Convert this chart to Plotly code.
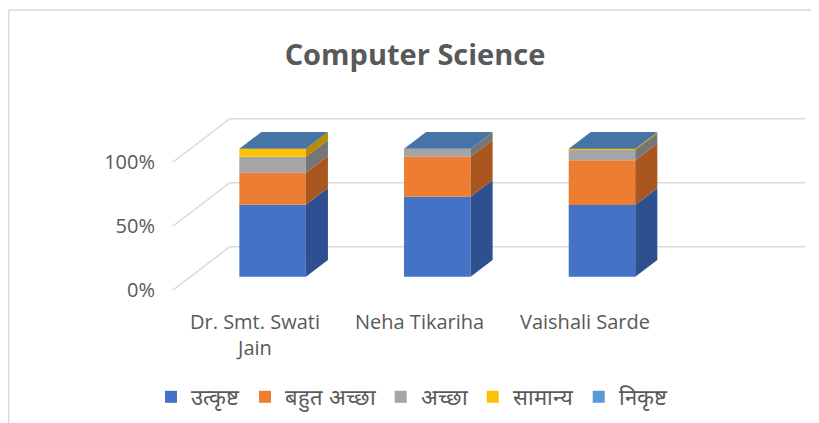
import plotly.graph_objects as go

# ---------------- data ----------------
categories = ["Dr. Smt. Swati<br>Jain", "Neha Tikariha", "Vaishali Sarde"]
series_names = ["उत्कृष्ट", "बहुत अच्छा", "अच्छा", "सामान्य", "निकृष्ट"]
utkrisht = [56.25, 62.5, 56.0]
bahut_achha = [25.0, 31.25, 35.0]
achha = [12.5, 6.25, 8.0]
samanya = [6.25, 0.0, 1.0]
nikrisht = [0.0, 0.0, 0.0]
y_tick_vals = [0, 50, 100]
y_tick_text = ["0%", "50%", "100%"]

series_values = [utkrisht, bahut_achha, achha, samanya, nikrisht]
front_colors = ["#4472C4", "#ED7D31", "#A5A5A5", "#FFC000", "#5B9BD5"]
side_colors = ["#2E5090", "#A9561F", "#767676", "#B88B00", "#3F75A8"]
top_color = "#4774A6"

# ---------------- pseudo-3D geometry (data units) ----------------
BW = 0.404          # bar width (category units)
FDX, FDY = 0.106, 10.4   # offset of bar front face from front plane
BDX, BDY = 0.134, 13.0   # bar depth
WDX, WDY = 0.346, 33.8   # depth of the floor (front plane -> back wall)
FRONT_LEFT = -0.499
GRID_RIGHT = 3.339

FONT = "Open Sans"
GRAY_TXT = "#595959"
GRID = "#D9D9D9"

W, H = 811, 415   # page adds an 8px body margin

fig = go.Figure()
xs = list(range(len(categories)))

cum = [0.0] * len(categories)
bases = []
for vals in series_values:
    bases.append(cum[:])
    cum = [c + v for c, v in zip(cum, vals)]

# front faces
for name, vals, col, base in zip(series_names, series_values, front_colors, bases):
    fig.add_trace(go.Bar(
        x=[x + FDX for x in xs], y=vals, base=[b + FDY for b in base],
        width=BW, name=name, marker=dict(color=col, line=dict(width=0)),
        hoverinfo="skip",
    ))

# side faces
for vals, col, base in zip(series_values, side_colors, bases):
    for i, x in enumerate(xs):
        if vals[i] <= 0:
            continue
        xr = x + FDX + BW / 2
        y0 = base[i] + FDY
        y1 = y0 + vals[i]
        fig.add_trace(go.Scatter(
            x=[xr, xr, xr + BDX, xr + BDX, xr],
            y=[y0, y1, y1 + BDY, y0 + BDY, y0],
            fill="toself", fillcolor=col, mode="lines", line=dict(width=0),
            showlegend=False, hoverinfo="skip",
        ))

# top faces
for i, x in enumerate(xs):
    xl = x + FDX - BW / 2
    xr = x + FDX + BW / 2
    yt = cum[i] + FDY
    fig.add_trace(go.Scatter(
        x=[xl, xr, xr + BDX, xl + BDX, xl],
        y=[yt, yt, yt + BDY, yt + BDY, yt],
        fill="toself", fillcolor=top_color, mode="lines", line=dict(width=0),
        showlegend=False, hoverinfo="skip",
    ))

# gridlines: back wall + left wall diagonals
shapes = []
for v in y_tick_vals:
    shapes.append(dict(type="line", xref="x", yref="y", layer="below",
                       x0=FRONT_LEFT, y0=v, x1=FRONT_LEFT + WDX, y1=v + WDY,
                       line=dict(color=GRID, width=1.5)))
    shapes.append(dict(type="line", xref="x", yref="y", layer="below",
                       x0=FRONT_LEFT + WDX, y0=v + WDY, x1=GRID_RIGHT, y1=v + WDY,
                       line=dict(color=GRID, width=1.5)))
# chart border (top and left edges visible)
shapes.append(dict(type="line", xref="paper", yref="paper",
                   x0=-148 / 654 + 0.001, y0=1.45, x1=1.05, y1=1.45,
                   line=dict(color="#D9D9D9", width=1.5)))
shapes.append(dict(type="line", xref="paper", yref="paper",
                   x0=-148 / 654 + 0.001, y0=1.45, x1=-148 / 654 + 0.001, y1=-0.7,
                   line=dict(color="#D9D9D9", width=1.5)))

annotations = []
for x, lab in zip(xs, categories):
    annotations.append(dict(x=x, y=-7.81, xref="x", yref="y", text=lab,
                            showarrow=False, yanchor="top", yshift=-6,
                            font=dict(family=FONT, size=20, color=GRAY_TXT)))

fig.update_layout(
    width=W, height=H,
    margin=dict(l=148, r=9, t=92, b=123, autoexpand=False),
    paper_bgcolor="white", plot_bgcolor="white",
    barmode="overlay",
    title=dict(text="<b>Computer Science</b>", x=407 / W, xanchor="center",
               y=1 - 47 / H, yanchor="middle",
               font=dict(family=FONT, size=29, color=GRAY_TXT)),
    xaxis=dict(range=[-0.602, 3.369], showgrid=False, zeroline=False,
               showticklabels=False, showline=False, automargin=False),
    yaxis=dict(range=[-7.81, 148.44], showgrid=False, zeroline=False,
               tickvals=y_tick_vals, ticktext=y_tick_text, showline=False,
               automargin=False,
               tickfont=dict(family=FONT, size=20, color=GRAY_TXT)),
    legend=dict(orientation="h", xref="container", yref="container",
                x=404 / W, y=1 - 389 / H, xanchor="center", yanchor="middle",
                font=dict(family=FONT, size=22, color=GRAY_TXT),
                itemwidth=30, tracegroupgap=0),
    shapes=shapes, annotations=annotations,
    showlegend=True,
)

fig.write_html("out.html")
